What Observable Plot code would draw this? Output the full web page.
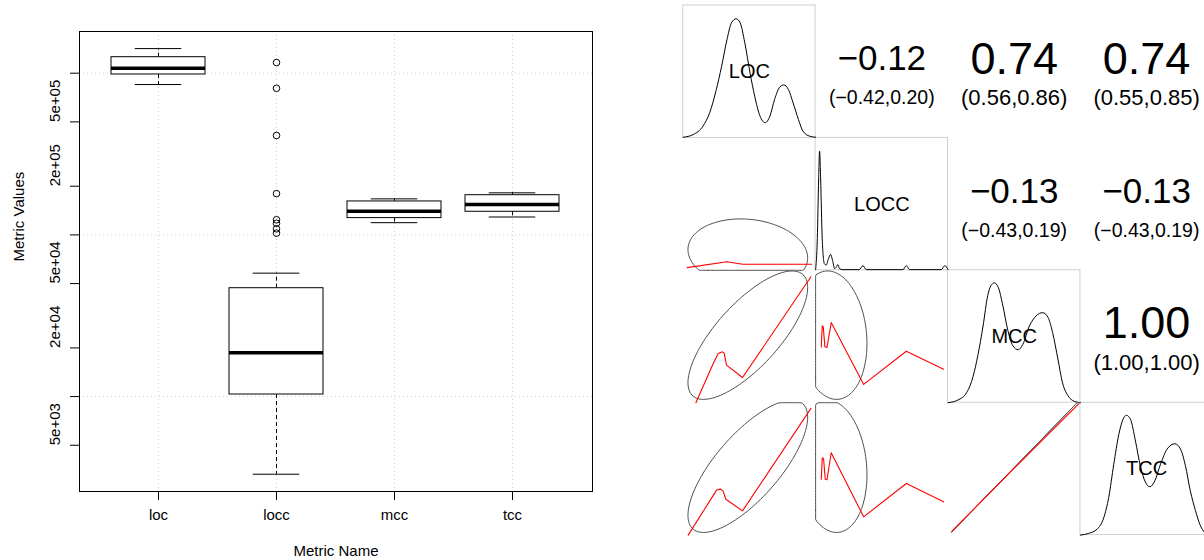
<!DOCTYPE html>
<html>
<head>
<meta charset="utf-8">
<script src="https://cdn.jsdelivr.net/npm/d3@7"></script>
<script src="https://cdn.jsdelivr.net/npm/@observablehq/plot@0.6"></script>
<style>
  html, body { margin: 0; padding: 0; background: white; overflow: hidden; }
  #wrap { position: relative; width: 1204px; height: 560px; overflow: hidden; background: white; }
  #left { position: absolute; left: 0; top: 0; width: 600px; height: 560px; }
  #right { position: absolute; left: 682px; top: 0; width: 532px; height: 540px; }
  svg { font-family: "Liberation Sans", Arial, Helvetica, sans-serif; max-width: none !important; }
</style>
</head>
<body>
<div id="wrap"><div id="left"></div><div id="right"></div></div>
<script>
// ---------------- Box plot data (log scale) ----------------
const metricNames = ["loc", "locc", "mcc", "tcc"];
const whiskerLow  = [8.51e5, 3.31e3, 1.19e5, 1.29e5];
const quartile1   = [9.82e5, 1.03e4, 1.27e5, 1.39e5];
const medians     = [1.074e6, 1.87e4, 1.40e5, 1.54e5];
const quartile3   = [1.256e6, 4.68e4, 1.61e5, 1.76e5];
const whiskerHigh = [1.42e6, 5.80e4, 1.67e5, 1.82e5];
const loccOutliers = [1.164e6, 8.07e5, 4.12e5, 1.80e5, 1.24e5, 1.18e5, 1.09e5, 1.025e5];
const yTicks      = [5e3, 1e4, 2e4, 5e4, 1e5, 2e5, 5e5, 1e6];
const yTickLabels = ["5e+03", "", "2e+04", "5e+04", "", "2e+05", "5e+05", ""];
const yGrid       = [1e4, 1e5, 1e6];

// ---------------- Pairs panel data ----------------
const pairVars = ["LOC", "LOCC", "MCC", "TCC"];
// upper-triangle correlations (row < col)
const corrRow  = [0, 0, 0, 1, 1, 2];
const corrCol  = [1, 2, 3, 2, 3, 3];
const corrR    = [-0.12, 0.74, 0.74, -0.13, -0.13, 1.00];
const ciLow    = [-0.42, 0.56, 0.55, -0.43, -0.43, 1.00];
const ciHigh   = [0.20, 0.86, 0.85, 0.19, 0.19, 1.00];
// variable means / sds in panel units (0..1)
const varMean = [0.488, 0.125, 0.51, 0.52];
const varSd   = [0.452, 0.263, 0.485, 0.5];
// density curves on the diagonal [u, v]
const locDensity = [[0,0.005],[0.075,0.025],[0.15,0.09],[0.20,0.19],[0.25,0.365],[0.29,0.54],[0.33,0.74],[0.365,0.87],[0.40,0.90],[0.43,0.87],[0.465,0.72],[0.505,0.49],[0.54,0.315],[0.58,0.165],[0.62,0.115],[0.655,0.165],[0.69,0.29],[0.73,0.385],[0.76,0.40],[0.795,0.365],[0.83,0.265],[0.87,0.14],[0.905,0.05],[0.955,0.013],[1.0,0.005]];
const loccDensity = [[0,0.005],[0.013,0.24],[0.023,0.69],[0.03,0.90],[0.038,0.69],[0.05,0.24],[0.066,0.05],[0.08,0.04],[0.098,0.09],[0.113,0.12],[0.128,0.075],[0.144,0.013],[0.156,0.025],[0.169,0.043],[0.18,0.013],[0.207,0.005],[0.33,0.005],[0.358,0.035],[0.383,0.005],[0.66,0.005],[0.685,0.035],[0.71,0.005],[0.95,0.005],[0.975,0.035],[1.0,0.005]];
const mccDensity = [[0,0],[0.075,0.02],[0.14,0.075],[0.19,0.2],[0.225,0.355],[0.265,0.58],[0.30,0.81],[0.325,0.885],[0.35,0.905],[0.38,0.87],[0.415,0.73],[0.45,0.555],[0.49,0.43],[0.53,0.40],[0.565,0.44],[0.615,0.58],[0.665,0.655],[0.715,0.68],[0.755,0.645],[0.79,0.53],[0.83,0.33],[0.865,0.15],[0.905,0.055],[0.955,0.01],[1.0,0]];
const tccDensity = [[0,0],[0.063,0.013],[0.126,0.045],[0.176,0.13],[0.214,0.285],[0.252,0.535],[0.29,0.76],[0.322,0.875],[0.348,0.905],[0.378,0.875],[0.416,0.71],[0.453,0.52],[0.491,0.40],[0.524,0.365],[0.562,0.41],[0.605,0.535],[0.655,0.65],[0.713,0.69],[0.756,0.65],[0.793,0.525],[0.83,0.335],[0.869,0.185],[0.907,0.07],[0.94,0.02],[0.97,0.006],[1.0,0]];
// loess smooths in lower panels [u, v]
const loessLocLocc = [[0.03,0.02],[0.33,0.065],[0.45,0.046],[0.97,0.046]];
const loessLocMcc  = [[0.096,0.0],[0.227,0.296],[0.264,0.372],[0.297,0.384],[0.31,0.372],[0.327,0.284],[0.448,0.19],[0.965,0.951]];
const loessLocTcc  = [[0.038,0.0],[0.252,0.34],[0.282,0.347],[0.302,0.332],[0.322,0.271],[0.448,0.183],[0.965,0.957]];
const loessLoccMcc = [[0.043,0.422],[0.05,0.58],[0.058,0.573],[0.07,0.422],[0.086,0.417],[0.118,0.605],[0.363,0.138],[0.685,0.389],[0.967,0.253]];
const loessLoccTcc = [[0.043,0.422],[0.05,0.583],[0.06,0.579],[0.073,0.422],[0.086,0.418],[0.118,0.622],[0.363,0.138],[0.685,0.39],[0.967,0.251]];
const loessMccTcc  = [[0.03,0.03],[0.5,0.505],[0.985,0.99]];

// ================= LEFT: box plot =================
const boxData = metricNames.map((name, i) => ({
  name, lo: whiskerLow[i], q1: quartile1[i], med: medians[i], q3: quartile3[i], hi: whiskerHigh[i]
}));
const FONT = "'Liberation Sans', Arial, Helvetica, sans-serif";

const left = Plot.plot({
  width: 600, height: 560,
  marginLeft: 79, marginRight: 8, marginTop: 31, marginBottom: 69,
  style: { fontFamily: FONT, fontSize: "15px", background: "white", color: "black" },
  x: { type: "band", domain: metricNames, paddingInner: 0.2, paddingOuter: 0.26, align: 0.5, axis: null },
  y: { type: "log", domain: [2588, 1.811e6], axis: null },
  marks: [
    Plot.ruleX(metricNames, { x: d => d, stroke: "#d3d3d3", strokeDasharray: "1,3" }),
    Plot.ruleY(yGrid, { y: d => d, stroke: "#d3d3d3", strokeDasharray: "1,3" }),
    Plot.ruleX(boxData, { x: "name", y1: "q3", y2: "hi", stroke: "black", strokeDasharray: "4,3" }),
    Plot.ruleX(boxData, { x: "name", y1: "q1", y2: "lo", stroke: "black", strokeDasharray: "4,3" }),
    Plot.tickY(boxData, { x: "name", y: "hi", stroke: "black", insetLeft: 23.75, insetRight: 23.75 }),
    Plot.tickY(boxData, { x: "name", y: "lo", stroke: "black", insetLeft: 23.75, insetRight: 23.75 }),
    Plot.barY(boxData, { x: "name", y1: "q1", y2: "q3", fill: "white", stroke: "black", strokeWidth: 1 }),
    Plot.tickY(boxData, { x: "name", y: "med", stroke: "black", strokeWidth: 3.5 }),
    Plot.dot(loccOutliers, { x: () => "locc", y: d => d, r: 3.3, stroke: "black", fill: "none", strokeWidth: 1 }),
    Plot.frame({ stroke: "black", strokeWidth: 1 }),
    Plot.axisY(yTicks, { tickSize: 9, tickFormat: () => "", label: null, stroke: "black" }),
    Plot.text(yTicks, { y: d => d, text: (d, i) => yTickLabels[i], frameAnchor: "left", dx: -24.5, rotate: -90, fontSize: 15, fill: "black" }),
    Plot.axisX({ tickSize: 9, tickFormat: () => "", label: null, stroke: "black" }),
    Plot.text(metricNames, { x: d => d, text: d => d, frameAnchor: "bottom", dy: 28.5, fontSize: 15, fill: "black" }),
    Plot.text(["Metric Name"], { text: d => d, frameAnchor: "bottom", dy: 64.5, fontSize: 15, fill: "black" }),
    Plot.text(["Metric Values"], { text: d => d, frameAnchor: "left", dx: -60, rotate: -90, fontSize: 15, fill: "black" })
  ]
});
document.getElementById("left").appendChild(left);

// ================= RIGHT: pairs panels =================
const diagFrames = pairVars.map((v, i) => ({ x1: i, x2: i + 1, y1: 3 - i, y2: 4 - i }));
const densities = [locDensity, loccDensity, mccDensity, tccDensity];
const densityPts = densities.flatMap((arr, i) => arr.map(([u, v]) => ({ k: i, x: i + u, y: 3 - i + v })));

const clamp01 = t => Math.max(0, Math.min(1, t));
const ellipsePts = [];
corrR.forEach((r, k) => {
  // lower panel: row = corrCol[k] (y variable), col = corrRow[k] (x variable)
  const row = corrCol[k], col = corrRow[k];
  const mx = varMean[col], xs = varSd[col], my = varMean[row], ys = varSd[row];
  const th = (r === 0 ? 1 : Math.sign(r)) / Math.SQRT2;
  const a1 = Math.sqrt(1 + r), a2 = Math.sqrt(Math.max(0, 1 - r));
  const n = 120;
  for (let s = 0; s <= n; s++) {
    const ang = 2 * Math.PI * s / n;
    const c = Math.cos(ang), sn = Math.sin(ang);
    const ex = th * (c * a1 - sn * a2), ey = th * (c * a1 + sn * a2);
    ellipsePts.push({ k, x: col + clamp01(mx + ex * xs), y: 3 - row + clamp01(my + ey * ys) });
  }
});

const loessSets = [
  { row: 1, col: 0, pts: loessLocLocc },
  { row: 2, col: 0, pts: loessLocMcc },
  { row: 3, col: 0, pts: loessLocTcc },
  { row: 2, col: 1, pts: loessLoccMcc },
  { row: 3, col: 1, pts: loessLoccTcc },
  { row: 3, col: 2, pts: loessMccTcc }
];
const loessPts = loessSets.flatMap((s, k) => s.pts.map(([u, v]) => ({ k, x: s.col + u, y: 3 - s.row + v })));

const fmt = v => v.toFixed(2).replace("-", "\u2212");
const corrData = corrR.map((r, k) => ({
  row: corrRow[k], col: corrCol[k], r,
  main: fmt(r), ci: "(" + fmt(ciLow[k]) + "," + fmt(ciHigh[k]) + ")", neg: ciLow[k] < 0
}));

const right = Plot.plot({
  width: 532, height: 540,
  marginLeft: 0.7, marginRight: 1.7, marginTop: 5, marginBottom: 5.4,
  style: { fontFamily: FONT, background: "white", color: "black", maxWidth: "none" },
  x: { domain: [0, 4], axis: null },
  y: { domain: [0, 4], axis: null },
  marks: [
    Plot.rect(diagFrames, { x1: "x1", x2: "x2", y1: "y1", y2: "y2", fill: "none", stroke: "#cfcfcf", strokeWidth: 1 }),
    Plot.line(densityPts, { x: "x", y: "y", z: "k", stroke: "black", strokeWidth: 1, curve: "monotone-x" }),
    Plot.text(pairVars, { x: (d, i) => i + 0.5, y: (d, i) => 3 - i + 0.5, text: d => d, fontSize: 20, fill: "black" }),
    Plot.line(ellipsePts, { x: "x", y: "y", z: "k", stroke: "#505050", strokeWidth: 1 }),
    Plot.line(loessPts, { x: "x", y: "y", z: "k", stroke: "red", strokeWidth: 1.1 }),
    Plot.text(corrData, { x: d => d.col + 0.5, y: d => 3 - d.row + 0.595, text: "main", fontSize: d => (d.r < 0 ? 35 : 45), fill: "black" }),
    Plot.text(corrData, { x: d => d.col + 0.5, y: d => 3 - d.row + 0.30, text: "ci", fontSize: d => (d.neg ? 19.5 : 22), fill: "black" })
  ]
});
document.getElementById("right").appendChild(right);
</script>
</body>
</html>
